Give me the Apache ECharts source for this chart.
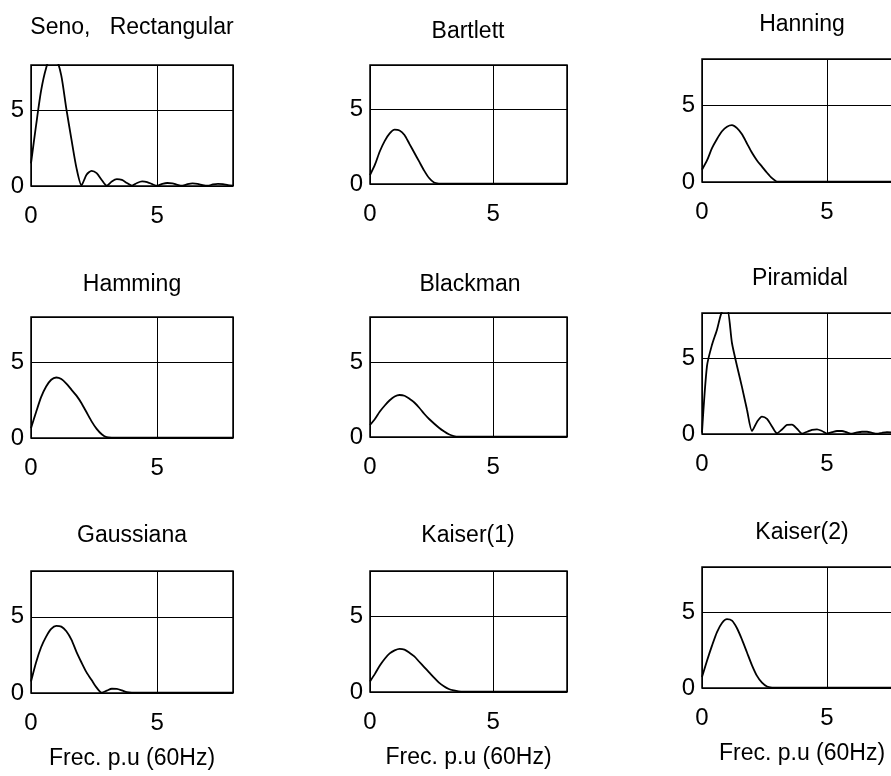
<!DOCTYPE html>
<html>
<head>
<meta charset="utf-8">
<script src="https://cdn.jsdelivr.net/npm/echarts@6/dist/echarts.min.js"></script>
<style>
  html, body { margin: 0; padding: 0; background: #fff; }
  #chart { width: 891px; height: 776px; }
</style>
</head>
<body>
<div id="chart"></div>
<script>
// Frequency samples (p.u. of 60 Hz)
const freq = [0, 0.2, 0.4, 0.6, 0.8, 1, 1.2, 1.4, 1.6, 1.8, 2, 2.2, 2.4, 2.6, 2.8, 3, 3.2, 3.4, 3.6, 3.8,
  4, 4.2, 4.4, 4.6, 4.8, 5, 5.2, 5.4, 5.6, 5.8, 6, 6.2, 6.4, 6.6, 6.8, 7, 7.2, 7.4, 7.6, 7.8, 8];

// Spectrum magnitude for each window
const senoRect = [1.5, 4.0, 6.3, 7.8, 8.6, 8.4, 7.3, 5.1, 3.1, 1.2,
  0.05, 0.75, 1.0, 0.85, 0.4, 0.02, 0.3, 0.45, 0.4, 0.2,
  0.02, 0.2, 0.3, 0.26, 0.12, 0.02, 0.14, 0.2, 0.18, 0.08,
  0.02, 0.12, 0.17, 0.14, 0.06, 0.02, 0.1, 0.14, 0.12, 0.05, 0.02];
const bartlett = [0.6, 1.3, 2.2, 2.9, 3.4, 3.65, 3.6, 3.3, 2.7, 2.1,
  1.5, 0.9, 0.4, 0.1, 0.03, 0.02, 0.02, 0.02, 0.02, 0.02,
  0.02, 0.02, 0.02, 0.02, 0.02, 0.02, 0.02, 0.02, 0.02, 0.02,
  0.02, 0.02, 0.02, 0.02, 0.02, 0.02, 0.02, 0.02, 0.02, 0.02, 0.02];
const hanning = [0.8, 1.4, 2.2, 2.8, 3.3, 3.6, 3.7, 3.5, 3.1, 2.5,
  1.9, 1.4, 1.0, 0.6, 0.25, 0.03, 0.02, 0.02, 0.02, 0.02,
  0.02, 0.02, 0.02, 0.02, 0.02, 0.02, 0.02, 0.02, 0.02, 0.02,
  0.02, 0.02, 0.02, 0.02, 0.02, 0.02, 0.02, 0.02, 0.02, 0.02, 0.02];
const hamming = [0.65, 1.7, 2.7, 3.4, 3.85, 4.0, 3.9, 3.6, 3.2, 2.8,
  2.3, 1.7, 1.1, 0.6, 0.25, 0.05, 0.03, 0.03, 0.03, 0.03,
  0.03, 0.03, 0.03, 0.03, 0.03, 0.03, 0.03, 0.03, 0.03, 0.03,
  0.03, 0.03, 0.03, 0.03, 0.03, 0.03, 0.03, 0.03, 0.03, 0.03, 0.03];
const blackman = [0.8, 1.2, 1.7, 2.1, 2.45, 2.7, 2.8, 2.75, 2.55, 2.3,
  1.95, 1.55, 1.2, 0.9, 0.62, 0.38, 0.18, 0.06, 0.02, 0.02,
  0.02, 0.02, 0.02, 0.02, 0.02, 0.02, 0.02, 0.02, 0.02, 0.02,
  0.02, 0.02, 0.02, 0.02, 0.02, 0.02, 0.02, 0.02, 0.02, 0.02, 0.02];
const piramidal = [0.1, 4.5, 5.9, 6.9, 8.1, 8.3, 6.0, 4.5, 3.1, 1.6,
  0.2, 0.8, 1.15, 1.0, 0.5, 0.05, 0.3, 0.6, 0.62, 0.35,
  0.03, 0.15, 0.28, 0.31, 0.2, 0.03, 0.12, 0.2, 0.2, 0.1,
  0.02, 0.1, 0.15, 0.15, 0.08, 0.02, 0.08, 0.12, 0.1, 0.05, 0.02];
const gaussiana = [0.75, 2.0, 3.0, 3.7, 4.2, 4.4, 4.35, 4.05, 3.5, 2.7,
  2.0, 1.35, 0.85, 0.35, 0.03, 0.15, 0.28, 0.27, 0.17, 0.05,
  0.02, 0.02, 0.02, 0.02, 0.02, 0.02, 0.02, 0.02, 0.02, 0.02,
  0.02, 0.02, 0.02, 0.02, 0.02, 0.02, 0.02, 0.02, 0.02, 0.02, 0.02];
const kaiser1 = [0.7, 1.2, 1.75, 2.2, 2.55, 2.75, 2.85, 2.8, 2.6, 2.35,
  2.0, 1.65, 1.3, 0.95, 0.62, 0.38, 0.2, 0.1, 0.04, 0.02,
  0.02, 0.02, 0.02, 0.02, 0.02, 0.02, 0.02, 0.02, 0.02, 0.02,
  0.02, 0.02, 0.02, 0.02, 0.02, 0.02, 0.02, 0.02, 0.02, 0.02, 0.02];
const kaiser2 = [0.73, 1.8, 2.8, 3.7, 4.3, 4.55, 4.45, 3.95, 3.2, 2.35,
  1.5, 0.8, 0.35, 0.1, 0.03, 0.02, 0.02, 0.02, 0.02, 0.02,
  0.02, 0.02, 0.02, 0.02, 0.02, 0.02, 0.02, 0.02, 0.02, 0.02,
  0.02, 0.02, 0.02, 0.02, 0.02, 0.02, 0.02, 0.02, 0.02, 0.02, 0.02];

const panelTitles = ['Seno,   Rectangular', 'Bartlett', 'Hanning',
  'Hamming', 'Blackman', 'Piramidal',
  'Gaussiana', 'Kaiser(1)', 'Kaiser(2)'];
const panelValues = [senoRect, bartlett, hanning, hamming, blackman, piramidal, gaussiana, kaiser1, kaiser2];
const tickLabels = [0, 5];
const xAxisTitle = 'Frec. p.u (60Hz)';
const axisMin = 0, axisMax = 8, axisStep = 5;

// Plot boxes (px) and title centres
const boxes = [
  { left: 31,  top: 65,  width: 202, height: 121 },
  { left: 370, top: 65,  width: 197, height: 119 },
  { left: 702, top: 59,  width: 200, height: 123 },
  { left: 31,  top: 317, width: 202, height: 121 },
  { left: 370, top: 317, width: 197, height: 120 },
  { left: 702, top: 313, width: 200, height: 121 },
  { left: 31,  top: 571, width: 202, height: 122 },
  { left: 370, top: 571, width: 197, height: 121 },
  { left: 702, top: 567, width: 200, height: 121 }
];
const titlePos = [
  { x: 132, y: 16 }, { x: 468, y: 20 }, { x: 802, y: 13 },
  { x: 132, y: 273 }, { x: 470, y: 273 }, { x: 800, y: 267 },
  { x: 132, y: 524 }, { x: 468, y: 524 }, { x: 802, y: 521 }
];

const FONT = '"Liberation Sans", Arial, Helvetica, sans-serif';
const INK = '#000';

const grids = [], xAxes = [], yAxes = [], series = [], titles = [];
boxes.forEach((b, i) => {
  grids.push({
    left: b.left, top: b.top, width: b.width, height: b.height,
    containLabel: false, outerBoundsMode: 'none',
    show: true, borderColor: INK, borderWidth: 1.5, backgroundColor: 'transparent'
  });
  const lastRow = i >= 6;
  xAxes.push({
    gridIndex: i, type: 'value', min: axisMin, max: axisMax, interval: axisStep,
    axisLine: { show: false }, axisTick: { show: false },
    splitLine: { show: true, lineStyle: { color: INK, width: 1 } },
    axisLabel: {
      color: INK, fontSize: 24, fontFamily: FONT, margin: 18,
      formatter: v => tickLabels.includes(v) ? String(v) : ''
    },
    name: lastRow ? xAxisTitle : '',
    nameLocation: 'middle', nameGap: 54,
    nameTextStyle: { color: INK, fontSize: 23, fontFamily: FONT }
  });
  yAxes.push({
    gridIndex: i, type: 'value', min: axisMin, max: axisMax, interval: axisStep,
    axisLine: { show: false }, axisTick: { show: false },
    splitLine: { show: true, lineStyle: { color: INK, width: 1 } },
    axisLabel: {
      color: INK, fontSize: 24, fontFamily: FONT, margin: 7, padding: [16, 0, 0, 0],
      formatter: v => tickLabels.includes(v) ? String(v) : ''
    }
  });
  series.push({
    type: 'line', xAxisIndex: i, yAxisIndex: i,
    data: freq.map((f, k) => [f, panelValues[i][k]]),
    showSymbol: false, smooth: 0.25, clip: true,
    lineStyle: { color: INK, width: 1.8 },
    silent: true, animation: false
  });
  titles.push({
    text: panelTitles[i], left: titlePos[i].x, top: titlePos[i].y, textAlign: 'center',
    padding: 0,
    textStyle: { color: INK, fontSize: 23, fontWeight: 'normal', fontFamily: FONT }
  });
});

const chart = echarts.init(document.getElementById('chart'), null, { renderer: 'canvas' });
chart.setOption({
  backgroundColor: '#fff',
  animation: false,
  title: titles,
  grid: grids,
  xAxis: xAxes,
  yAxis: yAxes,
  series: series
});
</script>
</body>
</html>
